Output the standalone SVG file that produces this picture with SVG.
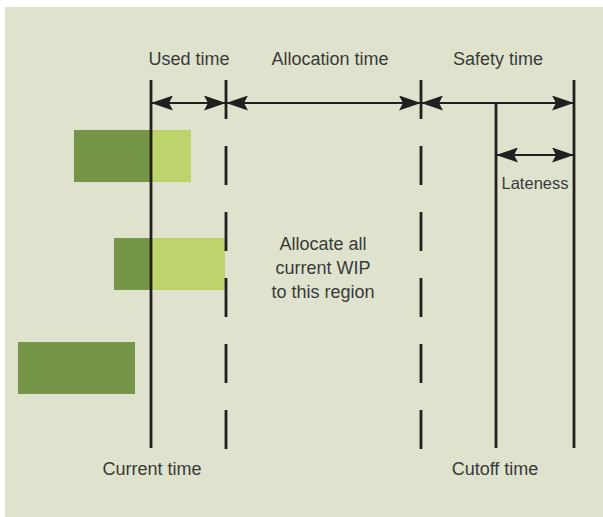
<svg xmlns="http://www.w3.org/2000/svg" width="603" height="517" viewBox="0 0 603 517">
<style>
  .txt { font-family: "Liberation Sans", Arial, sans-serif; font-size: 18px; fill: #3a3a3a; text-anchor: middle; }
  .vline { stroke: #231f20; stroke-width: 2.8; fill: none; }
  .dash { stroke: #231f20; stroke-width: 2.8; fill: none; stroke-dasharray: 39 27; }
  .arrow { stroke: #231f20; stroke-width: 2.2; fill: none; marker-start: url(#ah); marker-end: url(#ah); }
  .dark { fill: #759548; }
  .light { fill: #bdd36b; }
</style>
<defs>
  <marker id="ah" viewBox="0 0 22 15" refX="22" refY="7.5" markerWidth="22" markerHeight="15" markerUnits="userSpaceOnUse" orient="auto-start-reverse">
    <path d="M0,0 L22,7.5 L0,15 L4,7.5 Z" fill="#231f20"/>
  </marker>
</defs>
<rect x="0" y="0" width="603" height="517" fill="#ffffff"/>
<rect x="5" y="7" width="598" height="510" fill="#dfe3cd"/>

<g id="bar1">
  <rect class="dark" x="74" y="130" width="77" height="52"/>
  <rect class="light" x="151" y="130" width="40" height="52"/>
</g>
<g id="bar2">
  <rect class="dark" x="114" y="238" width="37" height="52"/>
  <rect class="light" x="151" y="238" width="74" height="52"/>
</g>
<g id="bar3">
  <rect class="dark" x="18" y="342" width="117" height="52"/>
</g>

<g id="connectors">
  <line class="vline" x1="151" y1="80" x2="151" y2="448"/>
  <line class="dash" x1="226" y1="80" x2="226" y2="449"/>
  <line class="dash" x1="421" y1="80" x2="421" y2="449"/>
  <line class="vline" x1="496" y1="103" x2="496" y2="448"/>
  <line class="vline" x1="574" y1="80" x2="574" y2="448"/>
  <line class="arrow" x1="151" y1="103" x2="226" y2="103"/>
  <line class="arrow" x1="226" y1="103" x2="421" y2="103"/>
  <line class="arrow" x1="421" y1="103" x2="574" y2="103"/>
  <line class="arrow" x1="496" y1="155" x2="574" y2="155"/>
</g>

<g id="label-used"><text class="txt" x="189" y="65">Used time</text></g>
<g id="label-allocation"><text class="txt" x="330" y="65">Allocation time</text></g>
<g id="label-safety"><text class="txt" x="498" y="65">Safety time</text></g>
<g id="label-lateness"><text class="txt" x="535" y="189" style="font-size:16.5px">Lateness</text></g>
<g id="label-region">
  <text class="txt" x="323" y="250">Allocate all</text>
  <text class="txt" x="323" y="274">current WIP</text>
  <text class="txt" x="323" y="298">to this region</text>
</g>
<g id="label-current"><text class="txt" x="152" y="475">Current time</text></g>
<g id="label-cutoff"><text class="txt" x="495" y="475">Cutoff time</text></g>
</svg>
